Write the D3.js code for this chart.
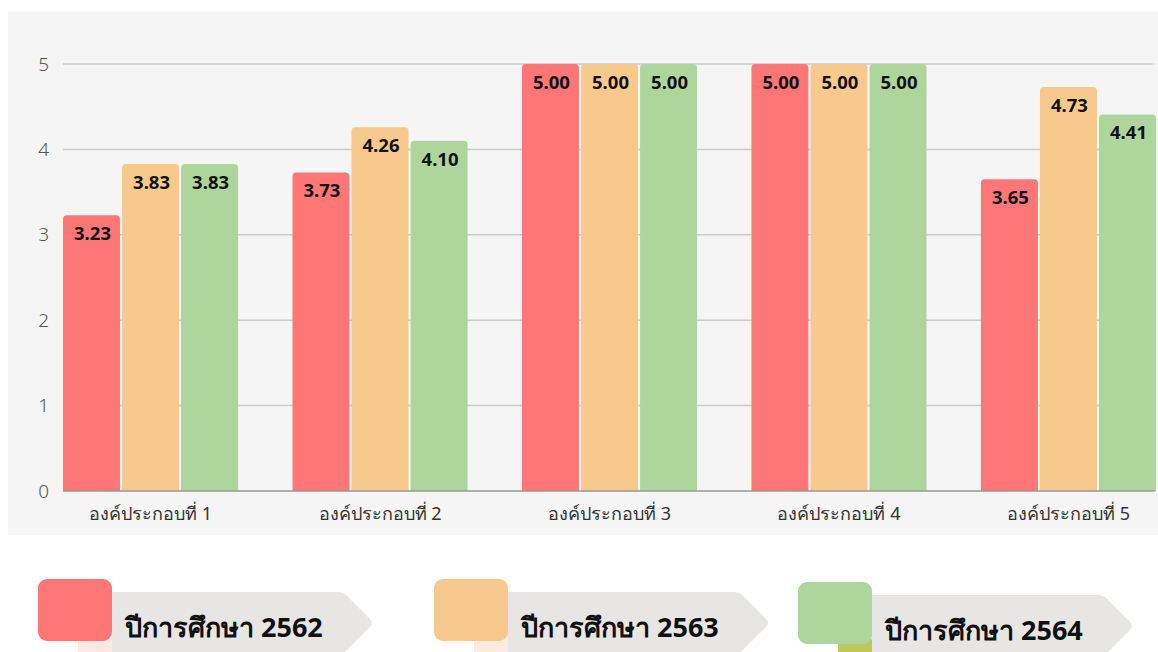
<!DOCTYPE html>
<html>
<head>
<meta charset="utf-8">
<script src="https://cdn.jsdelivr.net/npm/d3@7"></script>
<style>
  body { margin: 0; background: #fff; }
  svg { display: block; font-family: "Noto Sans", "Open Sans", sans-serif; }
</style>
</head>
<body>
<div id="chart"></div>
<script>
// categories + series
const categories = ["องค์ประกอบที่ 1", "องค์ประกอบที่ 2", "องค์ประกอบที่ 3", "องค์ประกอบที่ 4", "องค์ประกอบที่ 5"];
const seriesNames = ["ปีการศึกษา 2562", "ปีการศึกษา 2563", "ปีการศึกษา 2564"];
const values2562 = [3.23, 3.73, 5.00, 5.00, 3.65];
const values2563 = [3.83, 4.26, 5.00, 5.00, 4.73];
const values2564 = [3.83, 4.10, 5.00, 5.00, 4.41];
const yTicks = [0, 1, 2, 3, 4, 5];

const colors = ["#ff7676", "#f7c98c", "#aed69c"];
const foldColors = ["#fdebe2", "#fdebe2", "#bfc85a"];

const allSeries = [values2562, values2563, values2564];

const W = 1158, H = 652;
const svg = d3.select("#chart").append("svg")
    .attr("width", W)
    .attr("height", H);

// panel background
svg.append("rect")
    .attr("x", 8).attr("y", 11)
    .attr("width", W - 8).attr("height", 524)
    .attr("fill", "#f5f5f5");

const x0 = d3.scaleBand()
    .domain(categories)
    .range([63, 1156])
    .paddingInner(0.237)
    .paddingOuter(0);

const x1 = d3.scaleBand()
    .domain(d3.range(seriesNames.length))
    .range([0, x0.bandwidth()])
    .paddingInner(0.035);

const y = d3.scaleLinear()
    .domain([0, 5])
    .range([491, 64]);

// grid lines
svg.append("g")
    .selectAll("line")
    .data(yTicks.filter(d => d > 0))
    .join("line")
    .attr("x1", 63).attr("x2", 1155)
    .attr("y1", d => y(d)).attr("y2", d => y(d))
    .attr("stroke", "#cccccc")
    .attr("stroke-width", 1.5);

// y axis labels
const yAxis = svg.append("g")
    .attr("transform", "translate(49,0)")
    .call(d3.axisLeft(y).tickValues(yTicks).tickSize(0).tickPadding(0).tickFormat(d3.format("d")));
yAxis.select(".domain").remove();
yAxis.selectAll("text")
    .attr("font-size", 19)
    .attr("font-weight", 300)
    .attr("font-family", "Noto Sans, Open Sans, sans-serif")
    .attr("fill", "#555");

// bars, rounded top corners
function topRounded(x, yTop, w, h, r) {
    return `M${x},${yTop + h}V${yTop + r}Q${x},${yTop} ${x + r},${yTop}H${x + w - r}Q${x + w},${yTop} ${x + w},${yTop + r}V${yTop + h}Z`;
}

const groups = svg.append("g")
    .selectAll("g")
    .data(categories)
    .join("g")
    .attr("transform", d => `translate(${x0(d)},0)`);

groups.each(function (cat, ci) {
    const g = d3.select(this);
    allSeries.forEach((vals, si) => {
        const v = vals[ci];
        const bx = x1(si), bw = x1.bandwidth();
        g.append("path")
            .attr("d", topRounded(bx, y(v), bw, y(0) - y(v), 4))
            .attr("fill", colors[si]);
        g.append("text")
            .attr("x", bx + bw / 2 + 1)
            .attr("y", y(v) + 25)
            .attr("text-anchor", "middle")
            .attr("font-size", 18.5)
            .attr("font-weight", "bold")
            .attr("fill", "#111")
            .text(d3.format(".2f")(v));
    });
});

// baseline
svg.append("line")
    .attr("x1", 63).attr("x2", 1155)
    .attr("y1", y(0)).attr("y2", y(0))
    .attr("stroke", "#999")
    .attr("stroke-width", 1.5);

// category labels
const xAxis = svg.append("g")
    .attr("transform", `translate(0,${y(0)})`)
    .call(d3.axisBottom(x0).tickSize(0).tickPadding(16));
xAxis.select(".domain").remove();
xAxis.selectAll("text")
    .attr("font-size", 18)
    .attr("font-family", "Noto Sans, Open Sans, sans-serif")
    .attr("fill", "#333");

// legend: coloured tab + grey arrow banner
const legendX = [38, 434, 798];
const legendY = [579, 579, 582];

seriesNames.forEach((name, i) => {
    const lg = svg.append("g")
        .attr("transform", `translate(${legendX[i]},${legendY[i]})`);
    // arrow banner
    lg.append("path")
        .attr("d", "M70,13H300Q305,13 309,17L332,40Q336,44 332,48L309,71Q305,75 300,75H70Z")
        .attr("fill", "#e8e6e5");
    // folded bit under the tab
    lg.append("rect")
        .attr("x", 40).attr("y", 56)
        .attr("width", 34).attr("height", 20)
        .attr("rx", 3)
        .attr("fill", foldColors[i]);
    // tab
    lg.append("rect")
        .attr("x", 0).attr("y", 0)
        .attr("width", 74).attr("height", 62)
        .attr("rx", 9)
        .attr("fill", colors[i]);
    lg.append("text")
        .attr("x", 87)
        .attr("y", 58)
        .attr("font-size", 27)
        .attr("font-weight", "bold")
        .attr("fill", "#111")
        .text(name);
});
</script>
</body>
</html>
